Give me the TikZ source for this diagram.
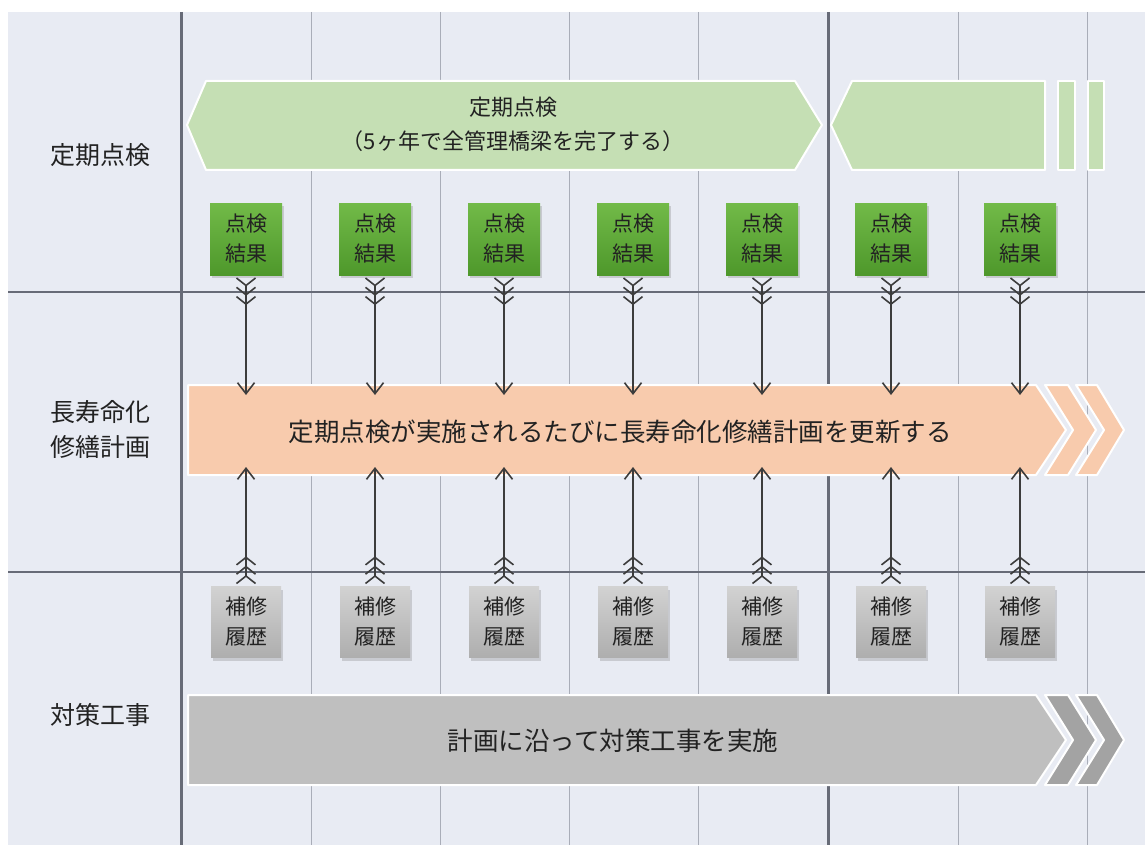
\documentclass[tikz,border=0pt]{standalone}
\usepackage{fontspec}
\setmainfont{Noto Sans CJK JP}
\usetikzlibrary{arrows.meta,shadows}
\definecolor{bg}{HTML}{E8EBF3}
\definecolor{gridd}{HTML}{676B77}
\definecolor{gridl}{HTML}{A9ADB8}
\definecolor{grn}{HTML}{C5DFB4}
\definecolor{grnhi}{HTML}{72BA48}
\definecolor{grnlo}{HTML}{4E982B}
\definecolor{org}{HTML}{F8CBAD}
\definecolor{gry}{HTML}{BFBFBF}
\definecolor{gryd}{HTML}{A3A3A3}
\definecolor{gryhi}{HTML}{D2D2D2}
\definecolor{grylo}{HTML}{AEAEAE}
\definecolor{ink}{HTML}{3C3C3C}
\definecolor{txt}{HTML}{222222}
\tikzset{
  fl/.tip={Straight Barb[reversed,length=7.5pt,width=19pt]},
  hd/.tip={Straight Barb[length=11pt,width=17pt]},
  lk/.style={draw=ink, line width=1.6pt, shorten <=2pt, {fl[]fl[]fl[]}-{hd[]}},
  band/.style={draw=white, line width=2pt},
  kq/.style={top color=grnhi, bottom color=grnlo, minimum width=72pt, minimum height=72pt,
    inner sep=0pt, align=center, text=txt, font=\fontsize{21}{30}\selectfont,
    drop shadow={shadow xshift=2pt, shadow yshift=-3pt, opacity=.3}},
  ls/.style={kq, top color=gryhi, bottom color=grylo, minimum width=70pt, minimum height=71pt},
  lab/.style={align=center, text=txt, font=\fontsize{25}{35}\selectfont},
  big/.style={text=txt, font=\fontsize{25.5}{30}\selectfont}
}
\begin{document}
\begin{tikzpicture}[x=1pt, y=-1pt, line join=round]
\useasboundingbox (0,0) rectangle (1145,845);
\fill[bg] (8,12) rectangle (1145,845);
\foreach \x in {311,440,569,698,958,1087}
\draw[gridl, line width=1pt] (\x,12) -- (\x,845);% duong mo
\foreach \x in {181,828}
\draw[gridd, line width=3pt] (\x,12) -- (\x,845);
\foreach \y in {292,572}
\draw[gridd, line width=2pt] (8,\y) -- (1145,\y);
% bang xanh
\filldraw[band, fill=grn] (187,125) -- (206,81) -- (795,81) -- (822,125) -- (795,170) -- (206,170) -- cycle;
\filldraw[band, fill=grn] (831,125) -- (852,81) -- (1045,81) -- (1045,170) -- (852,170) -- cycle;
\filldraw[band, fill=grn] (1058,81) rectangle (1075,170);
\filldraw[band, fill=grn] (1088,81) rectangle (1104,170);
% bang cam, bang xam
\foreach \t/\c/\d in {385/org/org,695/gry/gryd}{
  \filldraw[band, fill=\c] (188,\t) -- (1036,\t) -- (1066,\t+45) -- (1036,\t+90) -- (188,\t+90) -- cycle;
  \filldraw[band, fill=\d] (1045,\t) -- (1068,\t) -- (1096,\t+45) -- (1068,\t+90) -- (1045,\t+90) -- (1073,\t+45) -- cycle;
  \filldraw[band, fill=\d] (1076,\t) -- (1097,\t) -- (1124,\t+45) -- (1097,\t+90) -- (1076,\t+90) -- (1104,\t+45) -- cycle;
}
\node[align=center, text=txt, font=\fontsize{22}{34}\selectfont] (tk) at (513,124) {定期点検\\（5ヶ年で全管理橋梁を完了する）};
\node[big] (kh) at (620,432) {定期点検が実施されるたびに長寿命化修繕計画を更新する};
\node[big] (ct) at (613,741) {計画に沿って対策工事を実施};
\node[lab] (l1) at (100,155) {定期点検};
\node[lab] (l2) at (100,429) {長寿命化\\修繕計画};
\node[lab] (l3) at (100,715) {対策工事};
\foreach \i in {1,...,7}{
  \pgfmathsetmacro\xx{246+129*(\i-1)}
  \node[kq] (res\i) at (\xx,239) {点検\\結果};
  \node[ls] (rep\i) at (\xx,622) {補修\\履歴};
  \coordinate (pa\i) at (\xx,395);
  \coordinate (pb\i) at (\xx,467);
  \draw[lk] (res\i) -- (pa\i);
  \draw[lk] (rep\i) -- (pb\i);
}
\end{tikzpicture}
\end{document}
